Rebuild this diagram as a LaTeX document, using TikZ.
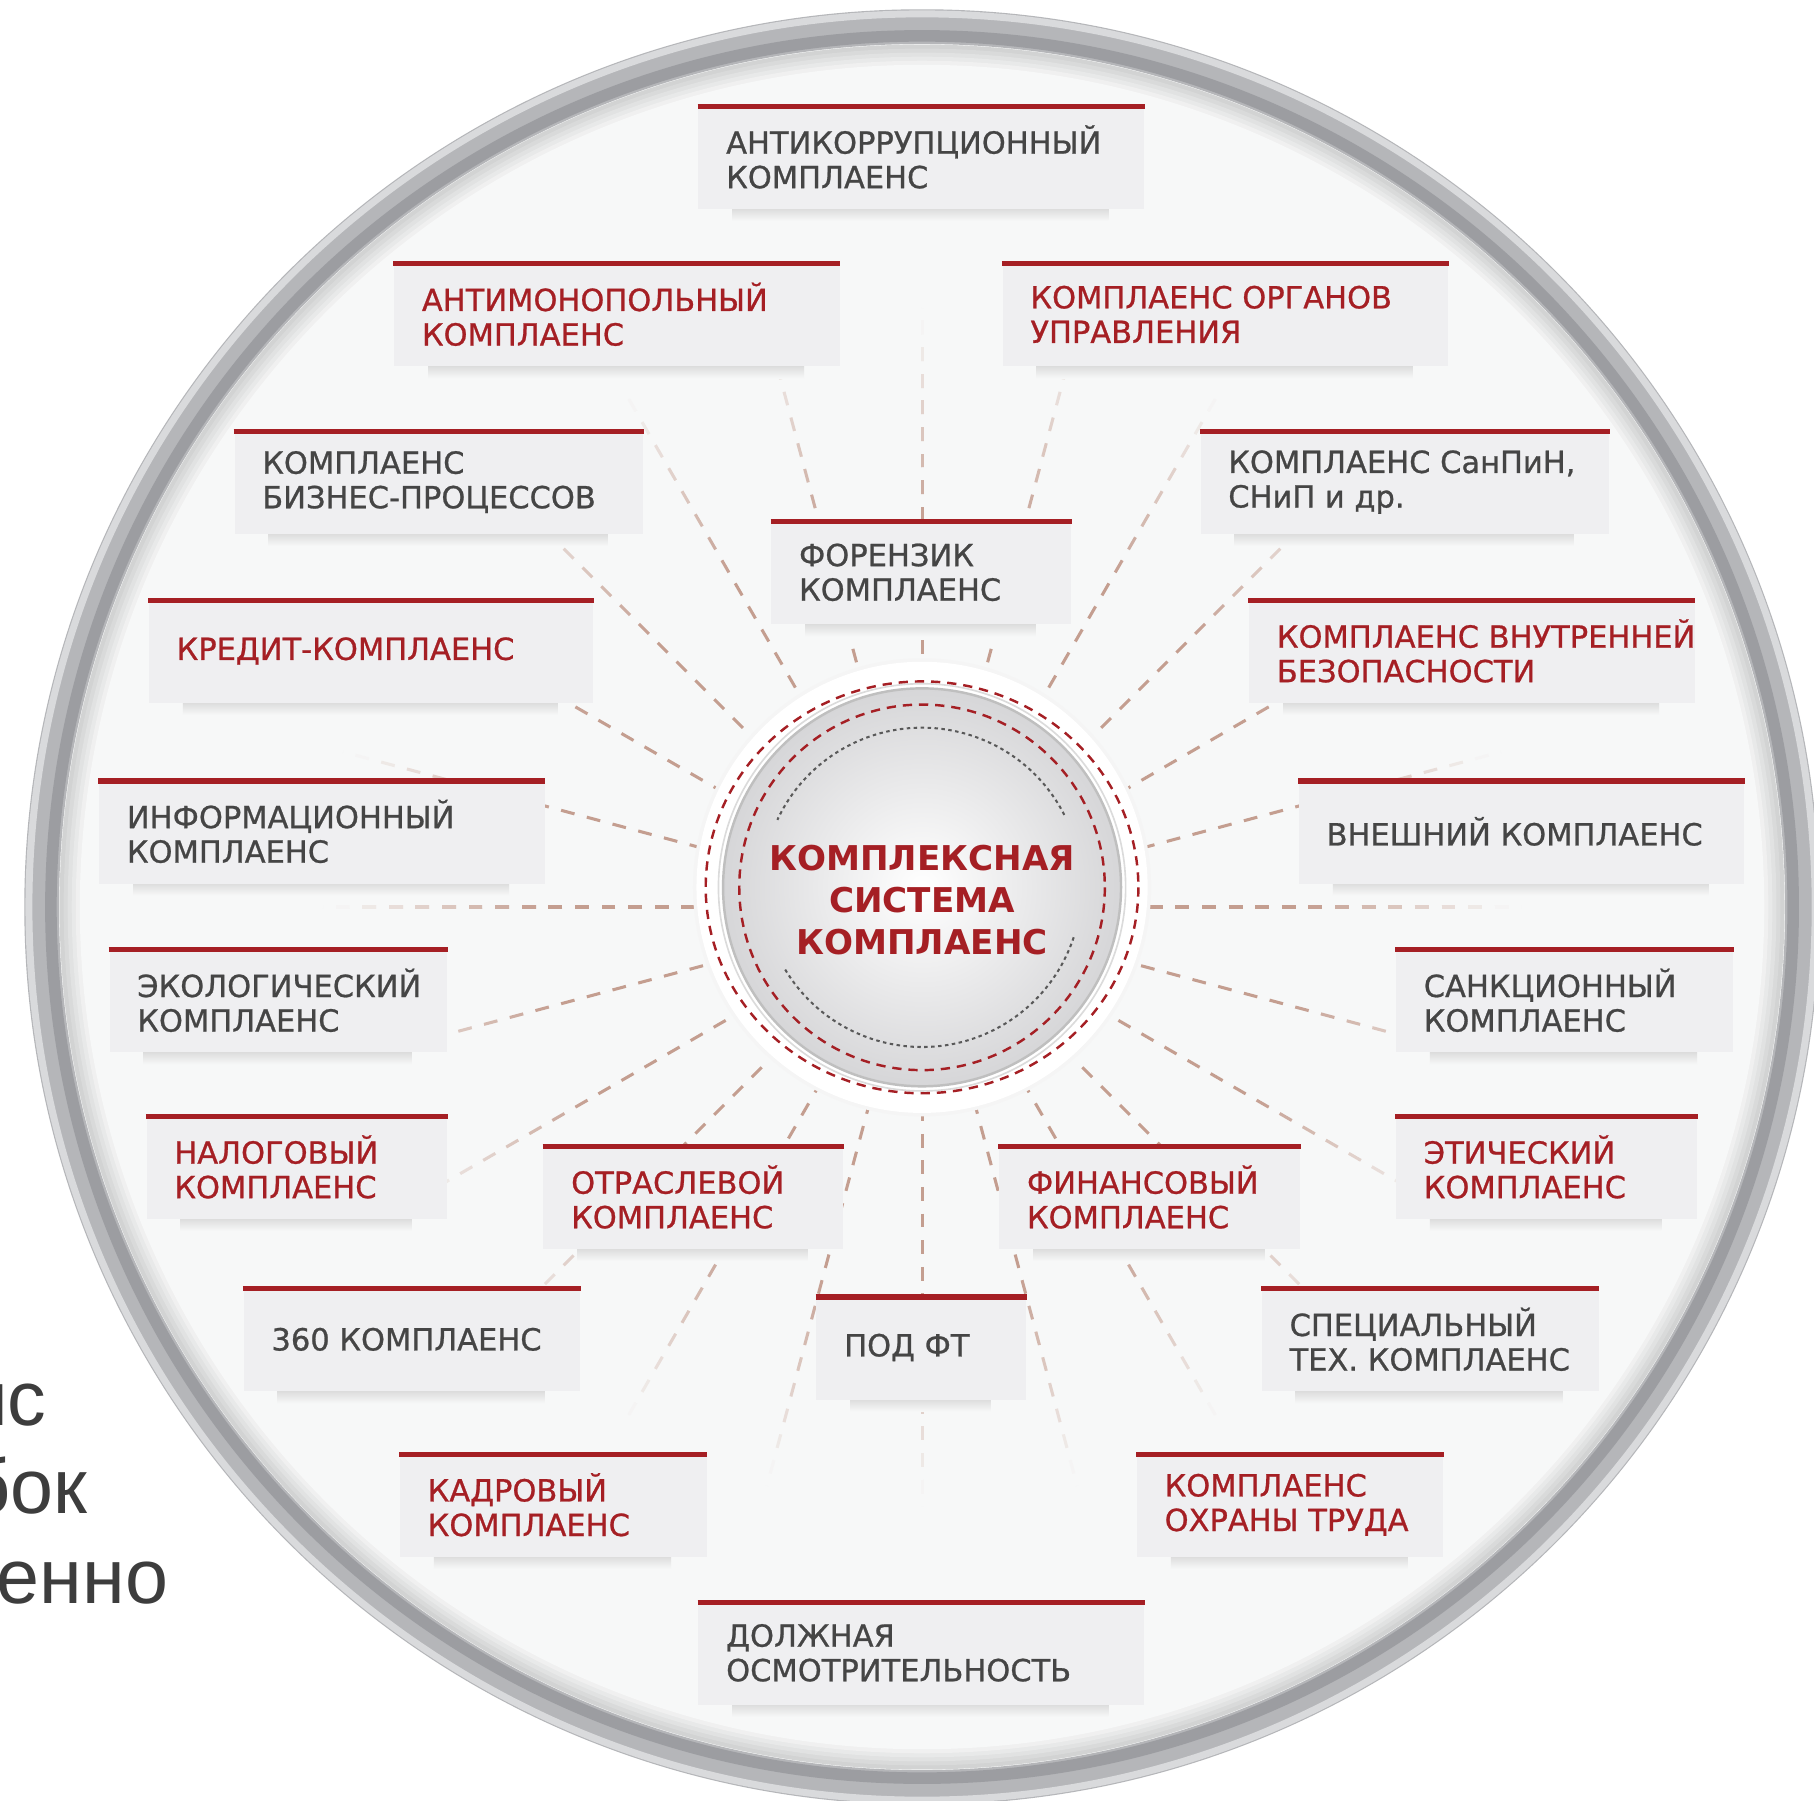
\documentclass[tikz,border=0pt]{standalone}
\usepackage{fontspec}
\setmainfont{DejaVu Sans}
\newfontfamily\lblfont{DejaVu Sans}[FakeBold=0.8]
\newfontfamily\fragfont{Liberation Sans}
\usetikzlibrary{calc}

\definecolor{bggray}{HTML}{F7F8F8}
\definecolor{boxgray}{HTML}{EFEFF1}
\definecolor{cred}{HTML}{A51F24}
\definecolor{cgray}{HTML}{454545}
\definecolor{spokecol}{HTML}{C49E90}
\definecolor{ringgray}{HTML}{B5B6B9}
\definecolor{ringdark}{HTML}{9C9DA1}
\definecolor{ringlight}{HTML}{D9DADC}
\definecolor{discgray}{HTML}{D6D6D8}

\tikzset{
    featbox/.style = {fill = boxgray, anchor = north west, minimum height = 0.88cm, inner sep = 0pt},
    redbar/.style = {draw = cred, line width = 1.3pt},
    lbl/.style = {anchor = west, align = left, inner sep = 0pt, font = \lblfont\fontsize{7.5}{8.5}\selectfont},
    spoke/.style = {line width = 0.75pt, dash pattern = on 0.12cm off 0.11cm},
    reddash/.style = {draw = cred, line width = 0.6pt, dash pattern = on 0.08cm off 0.06cm},
}

% box with red top bar: name, left, right, top, text colour, text
\newcommand{\featbox}[6]{%
    \pgfmathsetmacro\bw{#3-#2}
    \shade[top color = black!14, bottom color = bggray] (#2+0.3,#4+0.88) rectangle (#3-0.3,#4+0.99);
    \node[featbox, minimum width = \bw cm] (#1) at (#2,#4) {};
    \node[lbl, text = #5] (#1-t) at ([xshift = 0.24cm, yshift = 0.01cm]#1.west) {#6};
    \draw[redbar] (#1.north west) -- (#1.north east);
}

\begin{document}
\begin{tikzpicture}[x = 1cm, y = -1cm]
    \useasboundingbox (0,0) rectangle (15.68,15.56);
    \fill[white] (0,0) rectangle (15.68,15.56);
    \coordinate (hub) at (7.97,7.84);
    \coordinate (dc) at (7.97,7.67);

    % outer ring
    \fill[bggray] (hub) circle[radius = 7.6];
    \foreach \i in {1,...,6} {
        \pgfmathsetmacro\rr{7.47-0.035*\i}
        \pgfmathtruncatemacro\k{18-3*\i}
        \draw[line width = 0.04cm, black!\k!bggray] (hub) circle[radius = \rr];
    }
    \draw[line width = 0.30cm, ringgray] (hub) circle[radius = 7.61];
    \draw[line width = 0.10cm, ringdark] (hub) circle[radius = 7.53];
    \draw[line width = 0.06cm, ringlight] (hub) circle[radius = 7.72];

    % spokes
    \foreach \a in {0,15,...,345} {
        \draw[spoke, spokecol] ($(hub)+(\a:1.5)$) -- ($(hub)+(\a:3.34)$);
        \foreach \i in {0,...,7} {
            \pgfmathsetmacro\ra{3.34+0.23*\i}
            \pgfmathsetmacro\rb{\ra+0.23}
            \pgfmathtruncatemacro\k{95-13*\i}
            \draw[spoke, spokecol!\k!bggray] ($(hub)+(\a:\ra)$) -- ($(hub)+(\a:\rb)$);
        }
    }

    % boxes
    \featbox{antikor}{6.03}{9.88}{0.92}{cgray}{АНТИКОРРУПЦИОННЫЙ\\КОМПЛАЕНС}
    \featbox{antimon}{3.40}{7.25}{2.28}{cred}{АНТИМОНОПОЛЬНЫЙ\\КОМПЛАЕНС}
    \featbox{organy}{8.66}{12.51}{2.28}{cred}{КОМПЛАЕНС ОРГАНОВ\\УПРАВЛЕНИЯ}
    \featbox{biznes}{2.02}{5.55}{3.73}{cgray}{КОМПЛАЕНС\\БИЗНЕС-ПРОЦЕССОВ}
    \featbox{sanpin}{10.37}{13.90}{3.73}{cgray}{КОМПЛАЕНС СанПиН,\\СНиП и др.}
    \featbox{forenzik}{6.66}{9.25}{4.51}{cgray}{ФОРЕНЗИК\\КОМПЛАЕНС}
    \featbox{kredit}{1.28}{5.12}{5.19}{cred}{КРЕДИТ-КОМПЛАЕНС}
    \featbox{bezop}{10.79}{14.64}{5.19}{cred}{КОМПЛАЕНС ВНУТРЕННЕЙ\\БЕЗОПАСНОСТИ}
    \featbox{inform}{0.85}{4.70}{6.75}{cgray}{ИНФОРМАЦИОННЫЙ\\КОМПЛАЕНС}
    \featbox{vnesh}{11.22}{15.07}{6.75}{cgray}{ВНЕШНИЙ КОМПЛАЕНС}
    \featbox{ekolog}{0.94}{3.86}{8.21}{cgray}{ЭКОЛОГИЧЕСКИЙ\\КОМПЛАЕНС}
    \featbox{sankc}{12.06}{14.97}{8.21}{cgray}{САНКЦИОННЫЙ\\КОМПЛАЕНС}
    \featbox{nalog}{1.26}{3.86}{9.65}{cred}{НАЛОГОВЫЙ\\КОМПЛАЕНС}
    \featbox{etich}{12.06}{14.66}{9.65}{cred}{ЭТИЧЕСКИЙ\\КОМПЛАЕНС}
    \featbox{otrasl}{4.69}{7.28}{9.91}{cred}{ОТРАСЛЕВОЙ\\КОМПЛАЕНС}
    \featbox{finans}{8.63}{11.23}{9.91}{cred}{ФИНАНСОВЫЙ\\КОМПЛАЕНС}
    \featbox{k360}{2.10}{5.01}{11.14}{cgray}{360 КОМПЛАЕНС}
    \featbox{spec}{10.90}{13.81}{11.14}{cgray}{СПЕЦИАЛЬНЫЙ\\ТЕХ. КОМПЛАЕНС}
    \featbox{podft}{7.05}{8.86}{11.21}{cgray}{ПОД ФТ}
    \featbox{kadr}{3.45}{6.10}{12.57}{cred}{КАДРОВЫЙ\\КОМПЛАЕНС}
    \featbox{ohrana}{9.82}{12.47}{12.57}{cred}{КОМПЛАЕНС\\ОХРАНЫ ТРУДА}
    \featbox{dolzh}{6.03}{9.88}{13.85}{cgray}{ДОЛЖНАЯ\\ОСМОТРИТЕЛЬНОСТЬ}

    % centre disc
    \fill[black!4] (dc) circle[radius = 1.98];
    \fill[white] (dc) circle[radius = 1.95];
    \shade[inner color = white, outer color = discgray] (dc) circle[radius = 1.72];
    \draw[line width = 0.6pt, black!25] (dc) circle[radius = 1.72];
    \draw[line width = 0.4pt, black!14] (dc) circle[radius = 1.76];
    \draw[reddash] (dc) ellipse[x radius = 1.87, y radius = 1.78];
    \draw[reddash] (dc) circle[radius = 1.58];
    \draw[black!65, line width = 0.5pt, dash pattern = on 0.03cm off 0.03cm]
        ($(dc)+(-27:1.38)$) arc[start angle = -27, end angle = -155, radius = 1.38];
    \draw[black!65, line width = 0.5pt, dash pattern = on 0.03cm off 0.03cm]
        ($(dc)+(149:1.38)$) arc[start angle = 149, end angle = 18, radius = 1.38];
    \node[text = cred, align = center, inner sep = 0pt, font = \bfseries\fontsize{8.4}{10.4}\selectfont]
        (core) at ($(dc)+(0,0.11)$) {КОМПЛЕКСНАЯ\\СИСТЕМА\\КОМПЛАЕНС};

    % cut text on the left
    \node[anchor = base east, inner sep = 0pt, text = black!76, font = \fragfont\fontsize{19}{23}\selectfont] (fragA) at (0.41,12.32) {нс};
    \node[anchor = base east, inner sep = 0pt, text = black!76, font = \fragfont\fontsize{19}{23}\selectfont] (fragB) at (0.76,13.08) {бок};
    \node[anchor = base east, inner sep = 0pt, text = black!76, font = \fragfont\fontsize{19}{23}\selectfont] (fragC) at (1.46,13.86) {енно};
\end{tikzpicture}
\end{document}
